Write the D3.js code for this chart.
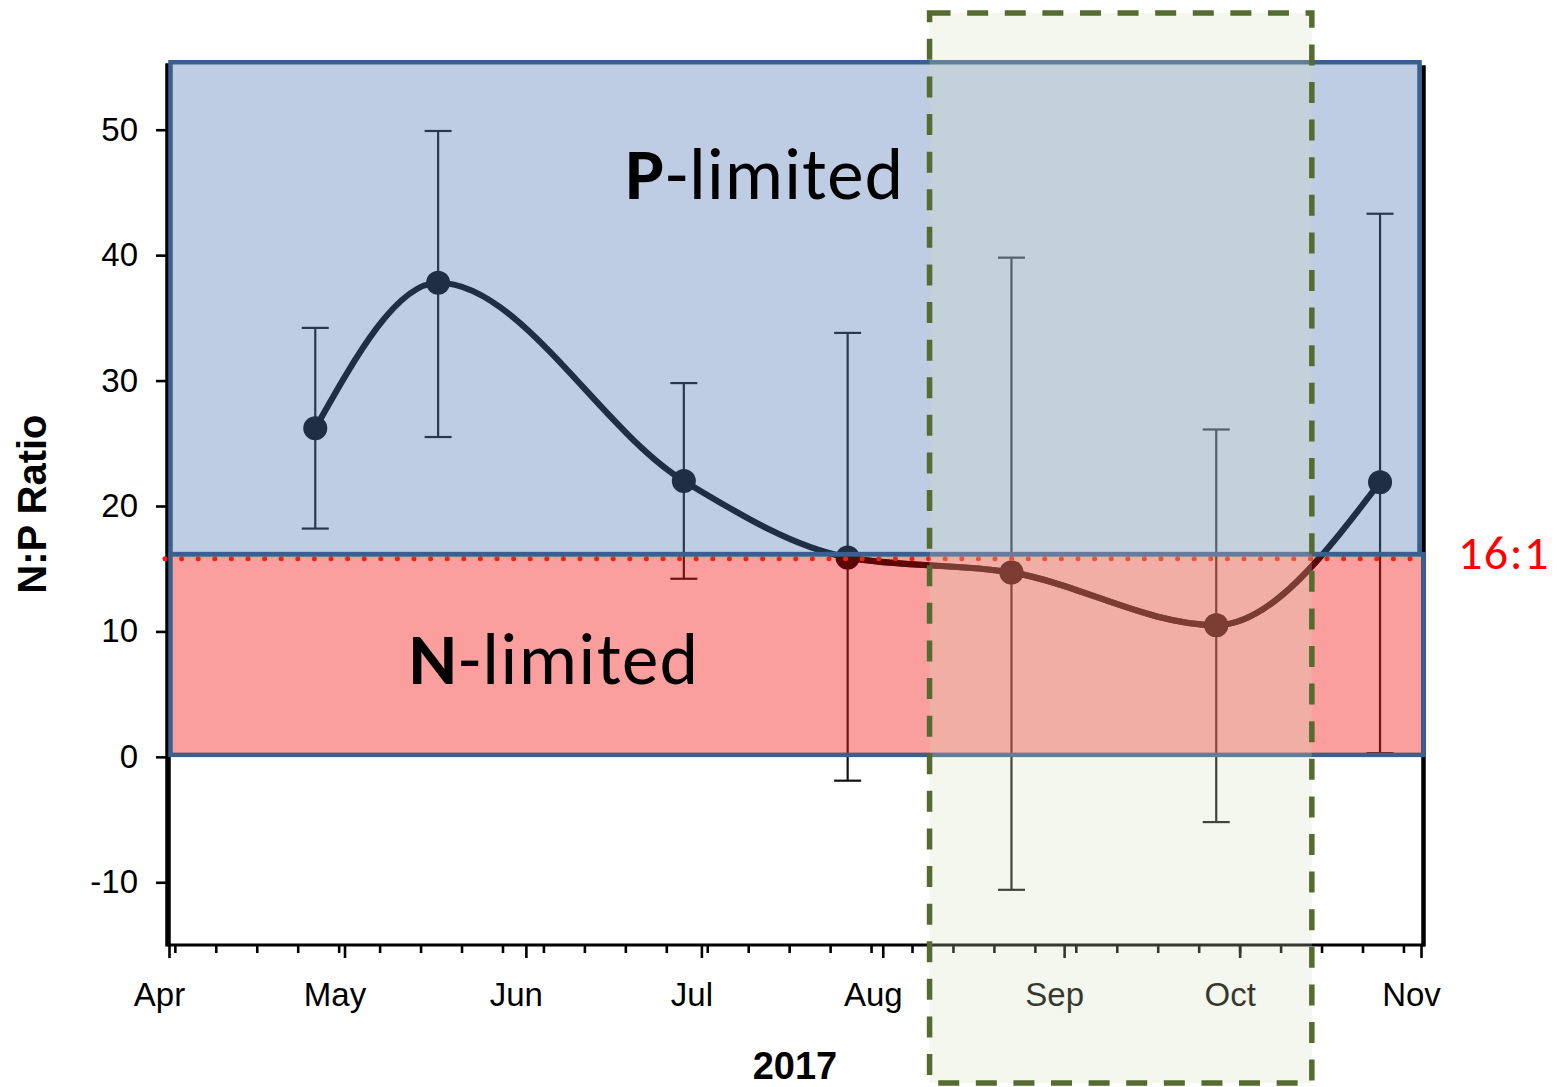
<!DOCTYPE html>
<html><head><meta charset="utf-8">
<script src="https://cdn.jsdelivr.net/npm/d3@7"></script>
<style>
html,body{margin:0;padding:0;background:#fff;}
svg{display:block;}
</style></head>
<body>
<svg id="chart" width="1561" height="1087"></svg>
<script>
// ---- data ----
const sampleDates = ["2017-04-26","2017-05-17","2017-06-28","2017-07-26","2017-08-23","2017-09-27","2017-10-25"];
const npRatio     = [26.2, 37.8, 22.0, 15.9, 14.7, 10.5, 21.9];
const errUpper    = [34.2, 49.9, 29.8, 33.8, 39.8, 26.1, 43.3];
const errLower    = [18.2, 25.5, 14.2, -1.9, -10.6, -5.2, 0.3];
const yTickValues = [-10, 0, 10, 20, 30, 40, 50];
const xDomain     = ["2017-04-01","2017-11-01"];
const yDomain     = [-15, 55];
const redfieldRatio = 16;               // 16:1 threshold
const pBand = [16, 55.3];               // P-limited band
const nBand = [0, 16];                  // N-limited band
const highlightDates  = ["2017-08-09","2017-10-13"];
const highlightValues = [-26, 59.3];
const yearLabel = "2017";
const yLabel = "N:P Ratio";

const parse = d3.timeParse("%Y-%m-%d");
const data = sampleDates.map((d,i)=>({date:parse(d), v:npRatio[i], hi:errUpper[i], lo:errLower[i]}));

const svg = d3.select("#chart");
const x = d3.scaleTime().domain(xDomain.map(parse)).range([169, 1421]);
const y = d3.scaleLinear().domain(yDomain).range([945, 67]);

const ink = "#1f2d45";
const inkLow = "#5c0606";

// ---- error bars (black, tinted by overlays) ----
const eb = svg.append("g").attr("stroke","#111").attr("stroke-width",2.2);
data.forEach(d=>{
  const cx = x(d.date);
  eb.append("line").attr("x1",cx).attr("x2",cx).attr("y1",y(d.hi)).attr("y2",y(d.lo));
  eb.append("line").attr("x1",cx-13.5).attr("x2",cx+13.5).attr("y1",y(d.hi)).attr("y2",y(d.hi));
  eb.append("line").attr("x1",cx-13.5).attr("x2",cx+13.5).attr("y1",y(d.lo)).attr("y2",y(d.lo));
});

// ---- axes ----
const xAxisMinor = d3.axisBottom(x).ticks(d3.timeWeek.every(1)).tickSize(8).tickFormat("");
const xAxisMajor = d3.axisBottom(x).ticks(d3.timeMonth.every(1)).tickSize(13).tickPadding(25).tickFormat(d3.timeFormat("%b"));
const gxm = svg.append("g").attr("transform",`translate(0,${y(yDomain[0])})`).call(xAxisMinor);
const gx = svg.append("g").attr("transform",`translate(0,${y(yDomain[0])})`).call(xAxisMajor);
[gxm,gx].forEach(g=>{
  g.select(".domain").remove();
  g.selectAll(".tick line").attr("stroke","#000").attr("stroke-width",2.6);
});
gx.selectAll(".tick text")
  .attr("font-family","'Liberation Sans', Arial, sans-serif")
  .attr("font-size",33).attr("fill","#000").attr("dx",-10);

const gy = svg.append("g").attr("transform",`translate(${x.range()[0]},0)`)
  .call(d3.axisLeft(y).tickValues(yTickValues).tickSize(13).tickPadding(18).tickFormat(d=>String(d)));
gy.select(".domain").remove();
gy.selectAll(".tick line").attr("stroke","#000").attr("stroke-width",2.6);
gy.selectAll(".tick text")
  .attr("font-family","'Liberation Sans', Arial, sans-serif")
  .attr("font-size",33).attr("fill","#000");

// axis frame lines
svg.append("line").attr("x1",x.range()[0]-2).attr("x2",x.range()[1]+4)
  .attr("y1",y(yDomain[0])).attr("y2",y(yDomain[0])).attr("stroke","#000").attr("stroke-width",3);
svg.append("line").attr("x1",x.range()[0]-1).attr("x2",x.range()[0]-1)
  .attr("y1",y(pBand[1])).attr("y2",y(yDomain[0])+1.5).attr("stroke","#000").attr("stroke-width",5.5);
svg.append("line").attr("x1",x.range()[1]+2.5).attr("x2",x.range()[1]+2.5)
  .attr("y1",y(pBand[1])+2).attr("y2",y(yDomain[0])+1.5).attr("stroke","#000").attr("stroke-width",4.5);

// ---- P-limited band overlay ----
svg.append("rect")
  .attr("x",x.range()[0]).attr("width",x.range()[1]-x.range()[0])
  .attr("y",y(pBand[1])).attr("height",y(pBand[0])-y(pBand[1]))
  .attr("fill","rgb(83,120,184)").attr("fill-opacity",0.375);

// ---- line & dots ----
const line = d3.line().x(d=>x(d.date)).y(d=>y(d.v)).curve(d3.curveMonotoneX);
function drawSeries(g, color){
  g.append("path").datum(data).attr("d",line).attr("fill","none")
    .attr("stroke",color).attr("stroke-width",6.2).attr("stroke-linecap","round");
  g.append("g").selectAll("circle").data(data).join("circle")
    .attr("cx",d=>x(d.date)).attr("cy",d=>y(d.v)).attr("r",12).attr("fill",color);
}
drawSeries(svg.append("g"), ink);

// ---- N-limited band overlay ----
svg.append("rect")
  .attr("x",x.range()[0]).attr("width",x.range()[1]-x.range()[0])
  .attr("y",y(nBand[1])).attr("height",y(nBand[0])-y(nBand[1]))
  .attr("fill","rgb(245,24,24)").attr("fill-opacity",0.42);

// series part inside N band, tinted dark red
svg.append("clipPath").attr("id","nclip").append("rect")
  .attr("x",x.range()[0]).attr("width",x.range()[1]-x.range()[0])
  .attr("y",y(nBand[1])).attr("height",y(nBand[0])-y(nBand[1]));
drawSeries(svg.append("g").attr("clip-path","url(#nclip)"), inkLow);

// red dotted 16:1 line
svg.append("line").attr("x1",x.range()[0]-4).attr("x2",x.range()[1])
  .attr("y1",y(redfieldRatio)+2.5).attr("y2",y(redfieldRatio)+2.5)
  .attr("stroke","#ff1a1a").attr("stroke-width",5)
  .attr("stroke-dasharray","0 16.6").attr("stroke-linecap","round");

// band borders
const bandStroke = "#3b5f8f";
svg.append("rect")
  .attr("x",x.range()[0]+1.5).attr("width",x.range()[1]-x.range()[0]-3)
  .attr("y",y(pBand[1])-1).attr("height",y(pBand[0])-y(pBand[1])-1)
  .attr("fill","none").attr("stroke",bandStroke).attr("stroke-width",4.5);
svg.append("rect")
  .attr("x",x.range()[0]+1.5).attr("width",x.range()[1]-x.range()[0]+1)
  .attr("y",y(nBand[1])-2).attr("height",y(nBand[0])-y(nBand[1]))
  .attr("fill","none").attr("stroke",bandStroke).attr("stroke-width",4.5);

// ---- highlight window ----
const hx0 = x(parse(highlightDates[0])), hx1 = x(parse(highlightDates[1]))+2;
svg.append("rect")
  .attr("x",hx0).attr("width",hx1-hx0)
  .attr("y",y(highlightValues[1])).attr("height",y(highlightValues[0])-y(highlightValues[1]))
  .attr("fill","rgb(212,224,188)").attr("fill-opacity",0.25)
  .attr("stroke","#556b2f").attr("stroke-width",5.5).attr("stroke-dasharray","21 16.6");

// ---- labels ----
const calib = "Carlito, Calibri, Lato, 'Open Sans', sans-serif";
const pt = svg.append("text").attr("x",x(parse("2017-06-18"))).attr("y",y(44.5))
  .attr("font-family",calib).attr("font-size",73).attr("letter-spacing",1.2).attr("fill","#000");
pt.append("tspan").attr("font-weight","bold").text("P");
pt.append("tspan").text("-limited");
const nt = svg.append("text").attr("x",x(parse("2017-05-12"))).attr("y",y(5.8))
  .attr("font-family",calib).attr("font-size",73).attr("letter-spacing",1.5).attr("fill","#000");
nt.append("tspan").attr("font-weight","bold").text("N");
nt.append("tspan").text("-limited");

svg.append("text").attr("x",x.range()[1]+37).attr("y",y(redfieldRatio)+13)
  .attr("font-family",calib).attr("font-size",48).attr("letter-spacing",1.5).attr("fill","#ff0000").text("16:1");

svg.append("text").attr("x",795).attr("y",1079).attr("text-anchor","middle")
  .attr("font-family","'Liberation Sans', Arial, sans-serif").attr("font-weight","bold")
  .attr("font-size",38).attr("fill","#000").text(yearLabel);

svg.append("text").attr("transform",`translate(46,${(y(yDomain[0])+y(pBand[1]))/2}) rotate(-90)`)
  .attr("text-anchor","middle")
  .attr("font-family","'Liberation Sans', Arial, sans-serif").attr("font-weight","bold")
  .attr("font-size",40).attr("fill","#000").text(yLabel);
</script>
</body></html>
